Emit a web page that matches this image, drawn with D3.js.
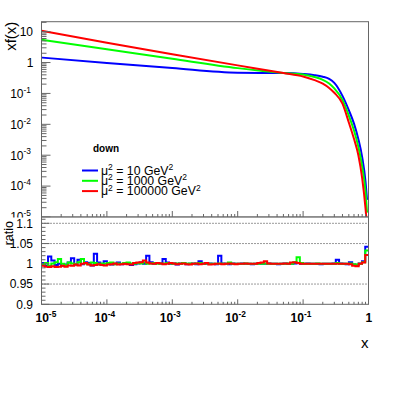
<!DOCTYPE html>
<html><head><meta charset="utf-8">
<script src="https://cdn.jsdelivr.net/npm/d3@7"></script>
<style>body{margin:0;background:#fff} text{font-family:"Liberation Sans",Arial,Helvetica,sans-serif}</style>
</head><body><svg id="c" width="409" height="395"></svg>
<script>
// ---- data ----
const xPoints   = [1e-5, 1e-4, 1e-3, 1e-2, 0.05, 0.1, 0.15, 0.2, 0.25, 0.3, 0.4, 0.5, 0.6, 0.7, 0.8, 0.9, 0.95];
const xfMu10    = [1.45, 0.966, 0.66, 0.468, 0.457, 0.427, 0.39, 0.347, 0.295, 0.219, 0.0832, 0.0288, 0.0105, 0.00331, 8.7e-4, 1.41e-4, 3.6e-5];
const xfMu1000  = [5.43, 2.69, 1.32, 0.66, 0.457, 0.407, 0.339, 0.275, 0.209, 0.145, 0.0617, 0.0191, 0.00631, 0.00186, 4.37e-4, 6.6e-5, 1.38e-5];
const xfMu1e5   = [10.7, 4.4, 1.86, 0.81, 0.46, 0.355, 0.269, 0.209, 0.151, 0.105, 0.0468, 0.0115, 0.00339, 0.001, 1.82e-4, 1.95e-5, 5.0e-6];

const ratioMu10 = [1.002,0.996,1.018,1.008,0.997,1.000,0.995,0.998,1.003,1.014,
  0.998,1.010,0.999,1.004,1.002,0.996,1.025,1.003,0.999,1.006,
  1.001,0.998,1.000,1.003,0.999,1.001,1.002,0.997,0.999,1.001,
  1.003,1.000,1.020,1.004,1.000,1.002,1.001,1.012,1.003,1.000,
  1.001,0.998,1.001,1.002,0.999,1.000,1.001,0.999,1.006,1.001,
  1.000,1.001,1.000,0.999,1.020,1.001,1.000,0.999,1.001,1.000,
  1.000,1.001,1.000,1.000,0.999,1.000,1.001,1.000,1.000,1.001,
  1.000,1.000,0.999,1.000,1.001,1.000,1.000,1.001,1.002,1.000,
  1.000,1.001,1.000,1.000,1.000,0.999,1.000,1.000,1.000,1.001,
  1.010,1.001,1.000,0.999,1.004,0.998,0.997,1.001,1.006,1.042];
const ratioMu1000 = [0.999,1.002,0.995,1.001,1.004,1.012,1.000,0.997,1.003,1.001,
  0.998,1.004,1.012,1.001,0.999,1.003,1.002,0.998,1.001,1.000,
  1.002,1.003,0.999,1.001,1.000,1.002,1.003,1.001,1.000,1.002,
  1.001,1.004,1.000,1.001,1.002,1.000,1.001,1.000,1.002,1.001,
  1.000,1.001,1.000,1.002,1.000,1.001,1.000,1.001,1.002,1.000,
  1.001,1.000,1.000,1.000,1.001,1.000,1.000,1.003,1.000,1.000,
  1.000,1.000,1.001,1.000,1.000,1.000,1.000,1.000,1.001,1.000,
  1.000,1.000,1.000,1.000,1.000,1.001,1.000,1.004,1.016,1.002,
  1.000,1.000,1.000,1.000,1.001,1.000,1.000,1.000,1.000,1.000,
  1.002,1.000,1.000,1.000,1.001,0.999,0.998,1.000,1.004,1.033];
const ratioMu1e5 = [0.995,0.993,0.992,0.994,0.992,0.993,0.995,0.993,0.996,0.995,
  0.998,0.996,1.000,1.002,0.998,0.996,0.997,0.999,0.997,0.996,
  0.998,0.999,1.001,0.998,0.999,1.000,0.999,0.998,1.002,1.003,
  1.004,1.008,1.003,1.001,1.000,1.002,1.001,0.999,1.000,1.002,
  1.001,0.999,1.000,1.001,0.999,0.998,1.000,1.001,0.999,1.000,
  1.002,0.998,0.999,1.000,1.000,0.999,1.000,1.001,1.000,0.999,
  1.000,1.000,1.001,1.000,1.000,1.000,1.002,1.003,1.006,1.001,
  1.000,1.000,1.000,1.000,1.001,1.000,1.003,1.004,1.002,1.000,
  1.000,1.000,1.000,1.000,1.000,1.000,1.000,1.000,1.000,1.000,
  1.000,1.000,1.000,1.000,0.999,0.995,0.994,1.000,1.003,1.022];

const seriesNames  = ["10", "1000", "100000"];
const seriesColors = ["#0000ff", "#00ff00", "#ff0000"];
const legendHeader = "down";
const topYTickExps = [-5, -4, -3, -2, -1, 0, 1];
const xTickExps    = [-5, -4, -3, -2, -1, 0];
const ratioTicks   = [0.9, 0.95, 1, 1.05, 1.1];
const ratioTickLabels = ["0.9", "0.95", "1", "1.05", "1.1"];
const ratioGrid    = [0.95, 1.05, 1.1];

// ---- layout ----
const svg = d3.select("#c");
const L = 41.5, R = 368.5, T = 21.7, B1 = 217, B2 = 304.3;
const axisCol = "#666";
const FS = 12;

const x = d3.scaleLog().domain([1e-5, 1]).range([L, R]);
const y = d3.scaleLog().domain([1e-5, 21]).range([B1, T]);
const yr = d3.scaleLinear().domain([0.9, 0.9 + (B2 - B1) / 405]).range([B2, B1]);

svg.append("rect").attr("width", 409).attr("height", 395).attr("fill", "#fff");

const defs = svg.append("defs");
defs.append("clipPath").attr("id", "clipTop").append("rect")
  .attr("x", L).attr("y", T).attr("width", R - L).attr("height", B1 - T);
defs.append("clipPath").attr("id", "clipRat").append("rect")
  .attr("x", L).attr("y", B1).attr("width", R - L).attr("height", B2 - B1);

function supLabel(sel, base, exp, fs) {
  sel.append("tspan").text(base);
  if (exp !== null) sel.append("tspan").attr("dy", -fs * 0.42).attr("font-size", fs * 0.7).text(exp);
}

function logTicks(e0, e1, maxV) {
  const out = [];
  for (let e = e0; e <= e1; e++) {
    for (let k = 1; k <= 9; k++) {
      const v = k * Math.pow(10, e);
      if (v <= maxV * 1.0001) out.push({v, major: k === 1});
    }
  }
  return out;
}

// ---- TOP PANEL ----
const gTop = svg.append("g");
const line = d3.line().x(d => x(d[0])).y(d => y(d[1])).curve(d3.curveMonotoneX);
const topSeries = [xfMu10, xfMu1000, xfMu1e5];
const gCurves = gTop.append("g").attr("clip-path", "url(#clipTop)");
topSeries.forEach((vals, i) => {
  gCurves.append("path").datum(xPoints.map((xv, j) => [xv, vals[j]]))
    .attr("d", line).attr("fill", "none").attr("stroke", seriesColors[i]).attr("stroke-width", 2);
});

gTop.append("rect").attr("x", L).attr("y", T).attr("width", R - L).attr("height", B1 - T)
  .attr("fill", "none").attr("stroke", axisCol).attr("stroke-width", 1);

logTicks(-5, 1, 21).forEach(t => {
  const yy = y(t.v);
  gTop.append("line").attr("x1", L).attr("x2", L + (t.major ? 9 : 5)).attr("y1", yy).attr("y2", yy)
    .attr("stroke", axisCol).attr("stroke-width", 1);
});
logTicks(-5, 0, 1).forEach(t => {
  const xx = x(t.v);
  gTop.append("line").attr("x1", xx).attr("x2", xx).attr("y1", B1).attr("y2", B1 - (t.major ? 6 : 3))
    .attr("stroke", axisCol).attr("stroke-width", 1);
});
topYTickExps.forEach(e => {
  const t = gTop.append("text").attr("y", y(Math.pow(10, e))).attr("dy", "0.36em")
    .attr("text-anchor", "end").attr("font-size", FS).attr("fill", "#000");
  if (e === 0) { t.attr("x", 33.5); supLabel(t, "1", null, FS); }
  else if (e === 1) { t.attr("x", 33); supLabel(t, "10", null, FS); }
  else { t.attr("x", 31); supLabel(t, "10", String(e), FS); }
});
gTop.append("text").attr("transform", `translate(16,${T}) rotate(-90)`).attr("text-anchor", "end")
  .attr("font-size", 15).text("xf(x)");

// legend
gTop.append("text").attr("x", 93).attr("y", 152).attr("font-size", 10).attr("font-weight", "bold").text(legendHeader);
seriesNames.forEach((n, i) => {
  const yy = 170.5 + i * 10.3;
  gTop.append("line").attr("x1", 82).attr("x2", 98).attr("y1", yy).attr("y2", yy)
    .attr("stroke", seriesColors[i]).attr("stroke-width", 2);
  const t = gTop.append("text").attr("x", 101).attr("y", yy + 4.2).attr("font-size", 12.3);
  t.append("tspan").text("\u03bc");
  t.append("tspan").attr("dy", -4.8).attr("font-size", 8.5).text("2");
  t.append("tspan").attr("dy", 4.8).text(" = " + n + " GeV");
  t.append("tspan").attr("dy", -4.8).attr("font-size", 8.5).text("2");
});

// ---- RATIO PANEL ----
const gR = svg.append("g");
gR.append("rect").attr("x", 0).attr("y", B1 + 0.5).attr("width", 409).attr("height", 395 - B1).attr("fill", "#fff");

ratioGrid.forEach(v => {
  gR.append("line").attr("x1", L).attr("x2", R).attr("y1", yr(v)).attr("y2", yr(v))
    .attr("stroke", "#333").attr("stroke-width", 1).attr("stroke-dasharray", "1,2");
});

const nBins = ratioMu10.length;
const binEdge = i => Math.pow(10, -5 + 5 * i / nBins);
const stepLine = d3.line().x(d => x(d[0])).y(d => yr(d[1])).curve(d3.curveStepAfter);
const gSteps = gR.append("g").attr("clip-path", "url(#clipRat)");
[ratioMu10, ratioMu1000, ratioMu1e5].forEach((vals, i) => {
  const pts = vals.map((v, j) => [binEdge(j), v]);
  pts.push([binEdge(nBins), vals[nBins - 1]]);
  gSteps.append("path").datum(pts).attr("d", stepLine).attr("fill", "none")
    .attr("stroke", seriesColors[i]).attr("stroke-width", 2);
});

gR.append("rect").attr("x", L).attr("y", B1).attr("width", R - L).attr("height", B2 - B1)
  .attr("fill", "none").attr("stroke", axisCol).attr("stroke-width", 1);

d3.range(0, 22).map(i => +(0.9 + i * 0.01).toFixed(3)).filter(v => v <= yr.domain()[1]).forEach(v => {
  const major = Math.abs(Math.round(v * 20) - v * 20) < 1e-6;
  gR.append("line").attr("x1", L).attr("x2", L + (major ? 8 : 4)).attr("y1", yr(v)).attr("y2", yr(v))
    .attr("stroke", axisCol).attr("stroke-width", 1);
});
ratioTicks.forEach((v, i) => {
  gR.append("text").attr("x", 33).attr("y", yr(v)).attr("dy", "0.36em").attr("text-anchor", "end")
    .attr("font-size", FS).text(ratioTickLabels[i]);
});
logTicks(-5, 0, 1).forEach(t => {
  const xx = x(t.v);
  gR.append("line").attr("x1", xx).attr("x2", xx).attr("y1", B2).attr("y2", B2 - (t.major ? 5 : 2.5))
    .attr("stroke", axisCol).attr("stroke-width", 1);
});
xTickExps.forEach((e, i) => {
  const xx = x(Math.pow(10, e));
  const t = gR.append("text").attr("y", 322).attr("font-size", FS).attr("font-weight", "bold");
  if (e === 0) { t.attr("x", xx - 3); supLabel(t, "1", null, FS); }
  else { t.attr("x", i === 0 ? xx - 6 : xx - 12.5); supLabel(t, "10", String(e), FS); }
});
gR.append("text").attr("transform", `translate(12.5,${B1 + 4}) rotate(-90)`).attr("text-anchor", "end")
  .attr("font-size", 12.5).text("ratio");
gR.append("text").attr("x", R).attr("y", 348).attr("text-anchor", "end").attr("font-size", 15).text("x");
</script></body></html>
